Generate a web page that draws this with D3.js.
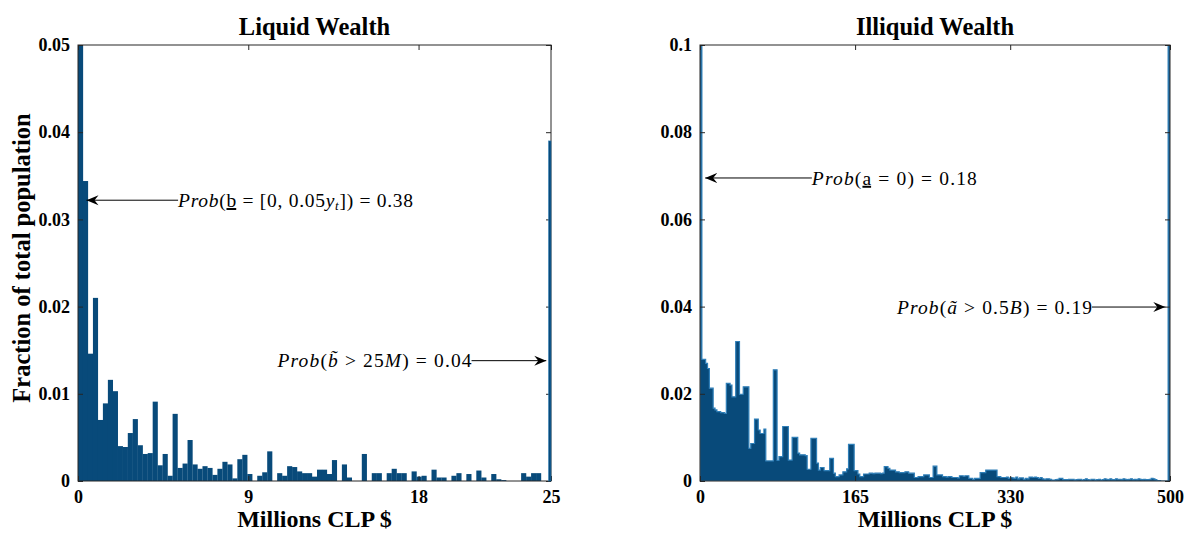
<!DOCTYPE html>
<html>
<head>
<meta charset="utf-8">
<script src="https://cdn.jsdelivr.net/npm/d3@7"></script>
<style>
  html, body { margin: 0; padding: 0; background: #ffffff; }
  svg { display: block; }
</style>
</head>
<body>
<svg id="chart" width="1189" height="536"></svg>
<script>
// ---------------- DATA ----------------
// Liquid wealth: fraction of population per bin, 0 .. 25 Millions CLP (equal bins)
const liquidValues = [
  0.38, 0.0344, 0.0146, 0.021, 0.007, 0.0089, 0.0116, 0.0103, 0.004, 0.0039,
  0.0055, 0.0071, 0.0041, 0.0031, 0.0032, 0.0091, 0.0018, 0.0031, 0.0006, 0.0077,
  0.0015, 0.002, 0.0047, 0.0019, 0.0014, 0.0017, 0.0015, 0.0007, 0.0014, 0.0022,
  0.0019, 0.0003, 0.0025, 0.003, 0.0008, 0, 0.0006, 0.001, 0.0034, 0,
  0.0009, 0.0006, 0.0017, 0.0016, 0.0011, 0.0009, 0.0009, 0.0005,
  0.0013, 0.0013, 0.0008, 0.0024, 0, 0.0019, 0.0004, 0, 0, 0.0031,
  0, 0.0009, 0.0009, 0, 0.0009, 0.0014, 0.0009, 0.0009, 0, 0.0011,
  0.0005, 0.0006, 0, 0.0013, 0.0004, 0.0004, 0, 0.0006, 0.0009, 0,
  0.0008, 0, 0.0012, 0.0004, 0, 0.0008, 0.0002, 0.0001, 0, 0,
  0, 0.0009, 0.0005, 0.0009, 0.0009, 0, 0
];
const liquidTopCoded = 0.039;          // mass above 25M, drawn at the right edge
const liquidMax = 25;
const liquidXTicks = [0, 9, 18, 25];
const liquidYTicks = [0, 0.01, 0.02, 0.03, 0.04, 0.05];

// Illiquid wealth: fraction of population per 2M bin, 0 .. 500 Millions CLP
const illiquidValues = [
  0.18, 0.0279, 0.0279, 0.027, 0.0258, 0.0213, 0.0213, 0.0167, 0.0163, 0.0159,
  0.0159, 0.0157, 0.0157, 0.0155, 0.0224, 0.0224, 0.022, 0.0193, 0.0193, 0.032,
  0.032, 0.0199, 0.0199, 0.0216, 0.0216, 0.0216, 0.0075, 0.0086, 0.0086, 0.0142,
  0.0142, 0.0117, 0.0109, 0.0109, 0.0119, 0.0046, 0.0046, 0.0046, 0.0046, 0.0255,
  0.0255, 0.0047, 0.0056, 0.0056, 0.0125, 0.0125, 0.0125, 0.0048, 0.0048, 0.01,
  0.01, 0.01, 0.0064, 0.006, 0.006, 0.006, 0.0058, 0.0027, 0.0027, 0.0098,
  0.0098, 0.0098, 0.0041, 0.0025, 0.0031, 0.0031, 0.0024, 0.0024, 0.0024, 0.0052,
  0.0052, 0.0018, 0.001, 0.001, 0.0014, 0.0014, 0.0021, 0.0021, 0.0028, 0.0084,
  0.0084, 0.0084, 0.0024, 0.0024, 0.0016, 0.001, 0.001, 0.0016, 0.0016, 0.0016,
  0.0018, 0.0018, 0.0017, 0.0018, 0.0018, 0.0018, 0.0017, 0.0018, 0.0033, 0.0033,
  0.0029, 0.0025, 0.0025, 0.0025, 0.0021, 0.0021, 0.0019, 0.0019, 0.0019, 0.0021,
  0.0021, 0.0018, 0.0018, 0.0018, 0.0008, 0.0008, 0.001, 0.001, 0.001, 0.0014,
  0.0014, 0.0014, 0.0008, 0.0008, 0.0034, 0.0034, 0.0014, 0.0014, 0.0014, 0.001,
  0.001, 0.0009, 0.001, 0.001, 0.0008, 0.0008, 0.0008, 0.0007, 0.0012, 0.0012,
  0.0011, 0.0012, 0.0012, 0.0006, 0.0006, 0.0004, 0.0006, 0.0006, 0.0006, 0.0019,
  0.0019, 0.0019, 0.0025, 0.0025, 0.0025, 0.0025, 0.0025, 0.0025, 0.001, 0.001,
  0.0008, 0.0008, 0.0008, 0.0009, 0.0006, 0.0008, 0.0007, 0.0006, 0.0009, 0.0005,
  0.0007, 0.0007, 0.0004, 0.0006, 0.0005, 0.0009, 0.0009, 0.0008, 0.0009, 0.0008,
  0.0006, 0.0008, 0.0005, 0.0004, 0.0005, 0.0005, 0.0004, 0.0002, 0.0002, 0.0003,
  0.0004, 0.0006, 0.0006, 0.0003, 0.0003, 0.0003, 0.0004, 0.0004, 0.0004, 0.0002,
  0.0003, 0.0004, 0.0004, 0.0002, 0.0003, 0.0005, 0.0003, 0.0002, 0.0004, 0.0004,
  0.0002, 0.0003, 0.0004, 0.0002, 0.0003, 0.0005, 0.0004, 0.0003, 0.0005, 0.0003,
  0.0003, 0.0005, 0.0004, 0.0004, 0.0003, 0.0005, 0.0004, 0.0003, 0.0004, 0.0005,
  0.0003, 0.0004, 0.0003, 0.0005, 0.0004, 0.0003, 0.0004, 0.0003, 0.0003, 0.0004,
  0.0006, 0.0005, 0.0003, 0.0001, 0.0001, 0, 0, 0, 0, 0.19
];
const illiquidMax = 500;
const illiquidXTicks = [0, 165, 330, 500];
const illiquidYTicks = [0, 0.02, 0.04, 0.06, 0.08, 0.1];

const titles = ["Liquid Wealth", "Illiquid Wealth"];
const xLabel = "Millions CLP $";
const yLabel = "Fraction of total population";

// ---------------- DRAWING ----------------
const svg = d3.select("#chart");
const BAR = "#084a7a";
const BAR_EDGE = "#2f7fb8";
const AX = "#262626";
const SERIF = "'Liberation Serif', 'Times New Roman', serif";

function panel(opts) {
  const { left, right, top, bottom, xMax, yMax, values, xTicks, yTicks, title, id, solid } = opts;
  const x = d3.scaleLinear().domain([0, xMax]).range([left, right]);
  const y = d3.scaleLinear().domain([0, yMax]).range([bottom, top]);
  const g = svg.append("g");

  g.append("clipPath").attr("id", id).append("rect")
    .attr("x", left).attr("y", top).attr("width", right - left).attr("height", bottom - top);

  const w = xMax / values.length;
  const bars = g.append("g").attr("clip-path", `url(#${id})`);
  const h = d => Math.min(d, yMax * 1.01);
  if (solid) {
    // light edge outline along the top contour, then solid fill
    const area = d3.area().curve(d3.curveStepAfter)
      .x((d, i) => x(i * w)).y0(y(0)).y1(d => y(h(d)));
    const pts = values.concat([values[values.length - 1]]);
    bars.append("path").datum(pts).attr("d", area)
      .attr("fill", BAR).attr("stroke", BAR_EDGE).attr("stroke-width", 1.2).attr("stroke-linejoin", "miter");
  } else {
    bars.selectAll("rect").data(values).join("rect")
      .attr("x", (d, i) => x(i * w))
      .attr("width", (d, i) => x((i + 1) * w) - x(i * w) + 0.15)
      .attr("y", d => y(h(d)))
      .attr("height", d => y(0) - y(h(d)))
      .attr("fill", BAR);
  }

  // axes (box with inward ticks)
  const fmt = v => String(+v.toFixed(3));
  const style = sel => {
    sel.select(".domain").remove();
    sel.selectAll("line").attr("stroke", AX).attr("stroke-width", 1);
    sel.selectAll("text").attr("font-family", SERIF).attr("font-weight", "bold")
      .attr("font-size", 18).attr("fill", "#000");
  };
  g.append("g").attr("transform", `translate(0,${bottom})`)
    .call(d3.axisBottom(x).tickValues(xTicks).tickFormat(fmt).tickSizeInner(-5).tickSizeOuter(0).tickPadding(9))
    .call(style);
  g.append("g").attr("transform", `translate(0,${top})`)
    .call(d3.axisTop(x).tickValues(xTicks).tickFormat("").tickSizeInner(-5).tickSizeOuter(0))
    .call(style);
  g.append("g").attr("transform", `translate(${left},0)`)
    .call(d3.axisLeft(y).tickValues(yTicks).tickFormat(fmt).tickSizeInner(-5).tickSizeOuter(0).tickPadding(8))
    .call(style);
  g.append("g").attr("transform", `translate(${right},0)`)
    .call(d3.axisRight(y).tickValues(yTicks).tickFormat("").tickSizeInner(-5).tickSizeOuter(0))
    .call(style);

  g.append("rect").attr("x", left).attr("y", top).attr("width", right - left).attr("height", bottom - top)
    .attr("fill", "none").attr("stroke", AX).attr("stroke-width", 1);

  g.append("text").attr("x", (left + right) / 2).attr("y", 35)
    .attr("text-anchor", "middle").attr("font-family", SERIF).attr("font-weight", "bold")
    .attr("font-size", 24.5).text(title);
  g.append("text").attr("x", (left + right) / 2).attr("y", 527)
    .attr("text-anchor", "middle").attr("font-family", SERIF).attr("font-weight", "bold")
    .attr("font-size", 24).text(xLabel);

  return { x, y, g };
}

const L = panel({ left: 78, right: 551, top: 45, bottom: 481, xMax: liquidMax, yMax: 0.05,
  values: liquidValues, xTicks: liquidXTicks, yTicks: liquidYTicks, title: titles[0], id: "clipL", solid: false });
const R = panel({ left: 700, right: 1170, top: 45, bottom: 481, xMax: illiquidMax, yMax: 0.1,
  values: illiquidValues, xTicks: illiquidXTicks, yTicks: illiquidYTicks, title: titles[1], id: "clipR", solid: true });

// top-coded liquid mass at 25M (thin bar at the right edge)
L.g.append("rect")
  .attr("x", L.x(liquidMax) - 2.5).attr("width", 2.5)
  .attr("y", L.y(liquidTopCoded)).attr("height", L.y(0) - L.y(liquidTopCoded))
  .attr("fill", BAR).attr("stroke", BAR_EDGE).attr("stroke-width", 0.5);

// y label
svg.append("text").attr("transform", "translate(30,258) rotate(-90)")
  .attr("text-anchor", "middle").attr("font-family", SERIF).attr("font-weight", "bold")
  .attr("font-size", 24.5).text(yLabel);

// arrow marker
svg.append("defs").append("marker").attr("id", "arrow")
  .attr("viewBox", "-12 -6 14 12").attr("refX", 0).attr("refY", 0)
  .attr("markerWidth", 14).attr("markerHeight", 12).attr("markerUnits", "userSpaceOnUse")
  .attr("orient", "auto")
  .append("path").attr("d", "M0,0 L-12,-5 L-8,0 L-12,5 Z").attr("fill", "#000");

function annotate(P, tipX, tipY, textX, side, targetW, parts) {
  const px = P.x(textX), py = P.y(tipY), tx = P.x(tipX);
  const t = svg.append("text").attr("y", py).attr("dy", "0.35em")
    .attr("font-family", SERIF).attr("font-size", 19.5).attr("fill", "#000");
  parts.forEach(p => {
    const s = t.append("tspan").text(p.t);
    if (p.i) s.attr("font-style", "italic");
    if (p.u) s.attr("text-decoration", "underline");
    if (p.sub) s.attr("font-size", 13).attr("baseline-shift", "-3");
  });
  t.attr("textLength", targetW).attr("lengthAdjust", "spacing");
  if (side === "start") t.attr("x", px);
  else t.attr("x", px - targetW);
  svg.append("line").attr("x1", px).attr("y1", py).attr("x2", tx).attr("y2", py)
    .attr("stroke", "#000").attr("stroke-width", 1).attr("marker-end", "url(#arrow)");
}

annotate(L, 0.45, 0.0322, 5.29, "start", 235, [
  { t: "Prob", i: true }, { t: "(" }, { t: "b", u: true }, { t: " = [0, 0.05" },
  { t: "y", i: true }, { t: "t", i: true, sub: true }, { t: "]) = 0.38" }
]);
annotate(L, 24.75, 0.0138, 20.8, "end", 194, [
  { t: "Prob", i: true }, { t: "(" }, { t: "b\u0303", i: true }, { t: " > 25" },
  { t: "M", i: true }, { t: ") = 0.04" }
]);
annotate(R, 5.5, 0.0695, 119, "start", 165, [
  { t: "Prob", i: true }, { t: "(" }, { t: "a", u: true }, { t: " = 0) = 0.18" }
]);
annotate(R, 495, 0.0399, 417, "end", 195, [
  { t: "Prob", i: true }, { t: "(" }, { t: "a\u0303", i: true }, { t: " > 0.5" },
  { t: "B", i: true }, { t: ") = 0.19" }
]);
</script>
</body>
</html>
